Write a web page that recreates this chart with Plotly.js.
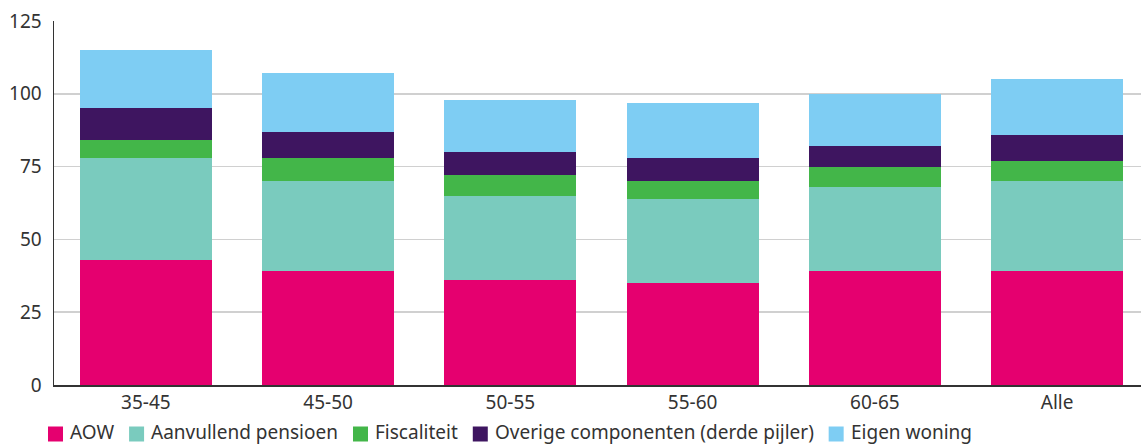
<!DOCTYPE html>
<html>
<head>
<meta charset="utf-8">
<script src="https://cdn.plot.ly/plotly-3.0.1.min.js"></script>
<style>html,body{margin:0;padding:0;background:#fff;}#chart{width:1141px;height:446px;}</style>
</head>
<body>
<div id="chart"></div>
<script>
const categories = ["35-45", "45-50", "50-55", "55-60", "60-65", "Alle"];
const aow = [43, 39, 36, 35, 39, 39];
const aanvullend = [35, 31, 29, 29, 29, 31];
const fiscaliteit = [6, 8, 7, 6, 7, 7];
const overige = [11, 9, 8, 8, 7, 9];
const eigenWoning = [20, 20, 18, 19, 18, 19];
const yTicks = [0, 25, 50, 75, 100, 125];

const series = [
  {name: "AOW", values: aow, color: "#E5006F"},
  {name: "Aanvullend pensioen", values: aanvullend, color: "#7ACBBE"},
  {name: "Fiscaliteit", values: fiscaliteit, color: "#43B649"},
  {name: "Overige componenten (derde pijler)", values: overige, color: "#3E1560"},
  {name: "Eigen woning", values: eigenWoning, color: "#7ECDF3"}
];

const FONT = "Noto Sans, Open Sans, sans-serif";
const FS = 19;
const TXT = "#333";

const traces = series.map(s => ({
  type: "bar",
  name: s.name,
  x: categories,
  y: s.values,
  marker: {color: s.color, line: {width: 0}},
  hoverinfo: "skip",
  showlegend: false
}));

// plot-area geometry (pixels)
const W = 1141, H = 446, ML = 54, MR = 0, MT = 21, MB = 61;
const PW = W - ML - MR, PH = H - MT - MB;
const pxToPaperX = px => (px - ML) / PW;
const pxToPaperY = py => (H - MB - py) / PH;

// custom horizontal legend laid out with measured text widths
const ctx = document.createElement("canvas").getContext("2d");
ctx.font = FS + "px 'Noto Sans'";
const legendShapes = [], legendAnnots = [];
let cursor = 48;
const squareY = pxToPaperY(434);
const textY = pxToPaperY(432);
const SQ = 15, GAP_TXT = 6, GAP_ITEM = 16;
series.forEach(s => {
  legendShapes.push({
    type: "rect", xref: "paper", yref: "paper",
    xsizemode: "pixel", ysizemode: "pixel",
    xanchor: pxToPaperX(cursor), yanchor: squareY,
    x0: 0, x1: SQ, y0: -SQ / 2, y1: SQ / 2,
    fillcolor: s.color, line: {width: 0}
  });
  const tx = cursor + SQ + GAP_TXT;
  legendAnnots.push({
    xref: "paper", yref: "paper", x: pxToPaperX(tx), y: textY,
    xanchor: "left", yanchor: "middle", showarrow: false,
    text: s.name, borderpad: 0,
    font: {family: FONT, size: FS, color: TXT}
  });
  cursor = tx + ctx.measureText(s.name).width + GAP_ITEM;
});

const layout = {
  width: W,
  height: H,
  margin: {l: ML, r: MR, t: MT, b: MB},
  barmode: "stack",
  bargap: 0.276,
  paper_bgcolor: "#fff",
  plot_bgcolor: "#fff",
  font: {family: FONT, size: FS, color: TXT},
  showlegend: false,
  xaxis: {
    type: "category",
    range: [-0.504, 5.46],
    showgrid: false,
    showline: true,
    linecolor: "#333",
    linewidth: 1.5,
    ticks: "",
    tickfont: {size: FS, color: TXT},
    fixedrange: true
  },
  yaxis: {
    range: [0, 125],
    tickvals: yTicks,
    ticktext: yTicks.map(String),
    showgrid: true,
    gridcolor: "#d0d0d0",
    gridwidth: 1.5,
    zeroline: false,
    showline: true,
    linecolor: "#333",
    linewidth: 1.5,
    ticks: "",
    ticklabelstandoff: 7,
    tickfont: {size: FS, color: TXT},
    fixedrange: true
  },
  shapes: legendShapes,
  annotations: legendAnnots,
  hovermode: false
};

Plotly.newPlot("chart", traces, layout, {displayModeBar: false, staticPlot: true});
</script>
</body>
</html>
